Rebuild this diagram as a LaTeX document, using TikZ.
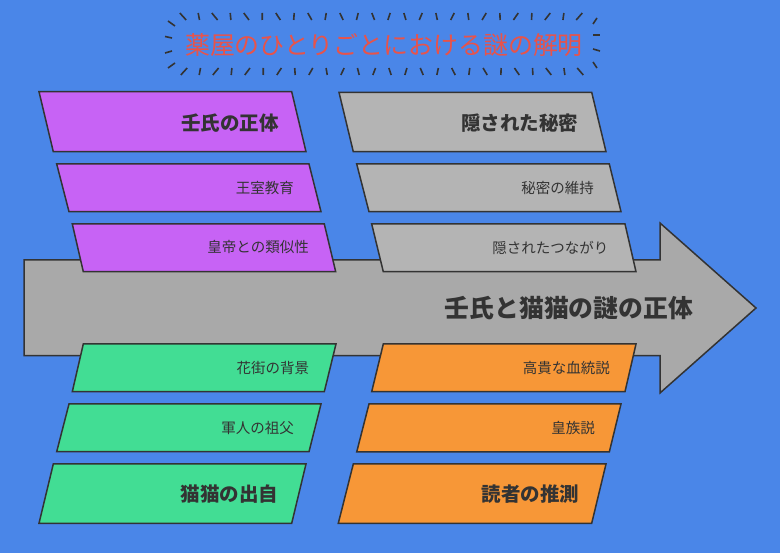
\documentclass[tikz,border=0pt]{standalone}
\usepackage{fontspec}
\setmainfont{Noto Sans CJK JP}
\definecolor{bg}{HTML}{4A86E8}
\definecolor{edge}{HTML}{333333}
\definecolor{pur}{HTML}{C763F5}
\definecolor{lgray}{HTML}{B4B4B4}
\definecolor{agray}{HTML}{A9A9A9}
\definecolor{grn}{HTML}{42DD94}
\definecolor{org}{HTML}{F79737}
\definecolor{ttl}{HTML}{E8534A}
\begin{document}
\begin{tikzpicture}[x=1pt,y=-1pt,
  box/.style={draw=edge, line width=1.5pt, line join=miter},
  ray/.style={draw=edge, line width=1.6pt},
  lbl/.style={anchor=east, inner sep=0pt, text=edge, font=\fontsize{14.5}{16}\selectfont},
  hdr/.style={anchor=east, inner sep=0pt, text=edge, font=\fontsize{19.5}{22}\selectfont\bfseries}]
\useasboundingbox (0,0) rectangle (780,553);
\fill[bg] (0,0) rectangle (780,553);

% title rays
\foreach \i in {0,...,25}{
  \pgfmathsetmacro\x{183+15.85*\i}
  \pgfmathsetmacro\s{(390-\x)/207*2.0+1.2*(-1)^\i}
  \draw[ray] (\x+\s,20) -- (\x-\s,13);
  \draw[ray] (\x+\s+1,68) -- (\x-\s+1,75);
}
\draw[ray] (175,26) -- (168,21);
\draw[ray] (172,38) -- (165,36.5);
\draw[ray] (172,51) -- (165,53);
\draw[ray] (175,63) -- (168,68);
\draw[ray] (593,24) -- (597,18);
\draw[ray] (593,35) -- (600,35);
\draw[ray] (593,49) -- (600,51);
\draw[ray] (593,62) -- (597,68);
\node[inner sep=0pt, text=ttl, font=\fontsize{24.9}{27}\selectfont] (title) at (384,45) {薬屋のひとりごとにおける謎の解明};

% main arrow
\draw[box, fill=agray] (24,260) -- (660,260) -- (660,223) -- (756,308) -- (660,393) -- (660,355.7) -- (24,355.7) -- cycle;
\node[anchor=east, inner sep=0pt, text=edge, font=\fontsize{24.8}{27}\selectfont\bfseries] (main) at (693,308) {壬氏と猫猫の謎の正体};

% purple column
\draw[box, fill=pur] (39,91.7) -- (291.7,91.7) -- (306,151.7) -- (53.3,151.7) -- cycle;
\node[hdr] (p1) at (279,122.7) {壬氏の正体};
\draw[box, fill=pur] (56.7,164) -- (309,164) -- (321,211.7) -- (69,211.7) -- cycle;
\node[lbl] (p2) at (294,187.7) {王室教育};
\draw[box, fill=pur] (72.3,224) -- (324.3,224) -- (335.7,271.7) -- (83.3,271.7) -- cycle;
\node[lbl] (p3) at (309,247.5) {皇帝との類似性};

% gray column
\draw[box, fill=lgray] (339,92.3) -- (591.7,92.3) -- (606,151.7) -- (353.3,151.7) -- cycle;
\node[hdr] (g1) at (578.5,122.7) {隠された秘密};
\draw[box, fill=lgray] (356.7,164) -- (609.3,164) -- (621,211.7) -- (369,211.7) -- cycle;
\node[lbl] (g2) at (594,187.7) {秘密の維持};
\draw[box, fill=lgray] (371.7,224) -- (625,224) -- (636,271.7) -- (383.3,271.7) -- cycle;
\node[lbl] (g3) at (608.5,247.5) {隠されたつながり};

% green column
\draw[box, fill=grn] (83.3,344) -- (336,344) -- (324.3,391.7) -- (72.3,391.7) -- cycle;
\node[lbl] (n1) at (309.3,367.8) {花街の背景};
\draw[box, fill=grn] (69,404) -- (321,404) -- (309,451.7) -- (56.7,451.7) -- cycle;
\node[lbl] (n2) at (294,427.8) {軍人の祖父};
\draw[box, fill=grn] (53.3,464) -- (306,464) -- (291.7,523.3) -- (39,523.3) -- cycle;
\node[hdr] (n3) at (278.5,493.7) {猫猫の出自};

% orange column
\draw[box, fill=org] (383.3,344) -- (636,344) -- (625,391.7) -- (371.7,391.7) -- cycle;
\node[lbl] (o1) at (610,367.8) {高貴な血統説};
\draw[box, fill=org] (369,404) -- (621,404) -- (609.3,452) -- (356.7,452) -- cycle;
\node[lbl] (o2) at (595,427.8) {皇族説};
\draw[box, fill=org] (353.3,464) -- (606,464) -- (591.7,523.3) -- (338.3,523.3) -- cycle;
\node[hdr] (o3) at (579.3,493.7) {読者の推測};
\end{tikzpicture}
\end{document}
